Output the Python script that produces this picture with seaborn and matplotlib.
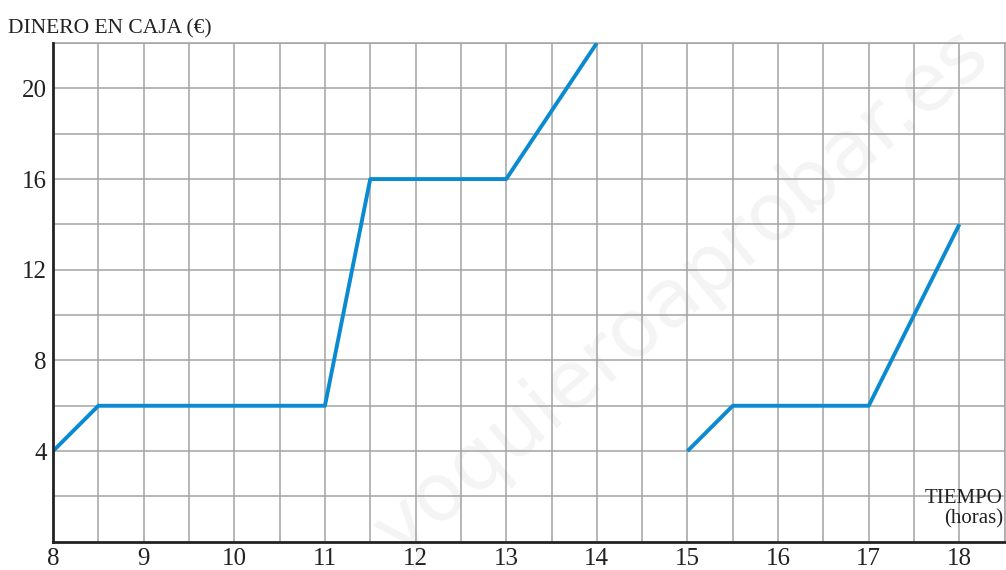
import matplotlib
matplotlib.use("Agg")
import matplotlib.pyplot as plt
import seaborn as sns
import pandas as pd
import numpy as np

# Data
hours_a = [8, 8.5, 11, 11.5, 13, 14]
money_a = [4, 6, 6, 16, 16, 22]
hours_b = [15, 15.5, 17, 18]
money_b = [4, 6, 6, 14]
x_ticks = [8, 9, 10, 11, 12, 13, 14, 15, 16, 17, 18]
y_ticks = [4, 8, 12, 16, 20]

sns.set_style("white")
plt.rcParams['font.family'] = ['Liberation Serif', 'DejaVu Serif']

df = pd.concat([
    pd.DataFrame({"hora": hours_a, "dinero": money_a, "tramo": "a"}),
    pd.DataFrame({"hora": hours_b, "dinero": money_b, "tramo": "b"}),
])

fig = plt.figure(figsize=(10.06, 5.70), dpi=100)
ax = fig.add_axes([0.0527, 0.0495, 0.946, 0.875])

# grid
for gx in np.arange(8.5, 18.51, 0.5):
    ax.axvline(gx, color="#a3a3a3", lw=1.1, zorder=1)
for gy in np.arange(2, 22.01, 2):
    ax.axhline(gy, color="#a3a3a3", lw=1.1, zorder=1)

# watermark (behind grid)
ax.text(0.66, 0.5, "yoquieroaprobar.es", transform=ax.transAxes, fontsize=58,
        color="#f4f4f4", rotation=40, ha="center", va="center",
        family="DejaVu Sans", zorder=0.5)

sns.lineplot(data=df, x="hora", y="dinero", units="tramo", estimator=None,
             color="#0a8ad0", lw=2.8, ax=ax, zorder=3, solid_capstyle="butt",
             legend=False)

ax.set_xlim(8, 18.5)
ax.set_ylim(0, 22)
ax.set_xticks(x_ticks)
ax.set_yticks(y_ticks)
ax.set_xticklabels([str(t) for t in x_ticks], fontsize=18, color="#222222")
ax.set_yticklabels([str(t) for t in y_ticks], fontsize=18, color="#222222")
ax.tick_params(axis="both", direction="inout", length=7, width=1.6, color="#222222", pad=1)
ax.set_xlabel("")
ax.set_ylabel("")

for s in ["left", "bottom"]:
    ax.spines[s].set_color("#222222")
    ax.spines[s].set_linewidth(2)
    ax.spines[s].set_zorder(4)
for s in ["top", "right"]:
    ax.spines[s].set_color("#a3a3a3")
    ax.spines[s].set_linewidth(1.1)

fig.text(0.008, 0.95, "DINERO EN CAJA (€)", fontsize=15.5, color="#222222",
         ha="left", va="center")
ax.text(18.48, 1.45, "TIEMPO\n(horas)", fontsize=15, color="#222222",
        ha="right", va="center", linespacing=1.05, zorder=5)

fig.savefig("out.png", dpi=100)
